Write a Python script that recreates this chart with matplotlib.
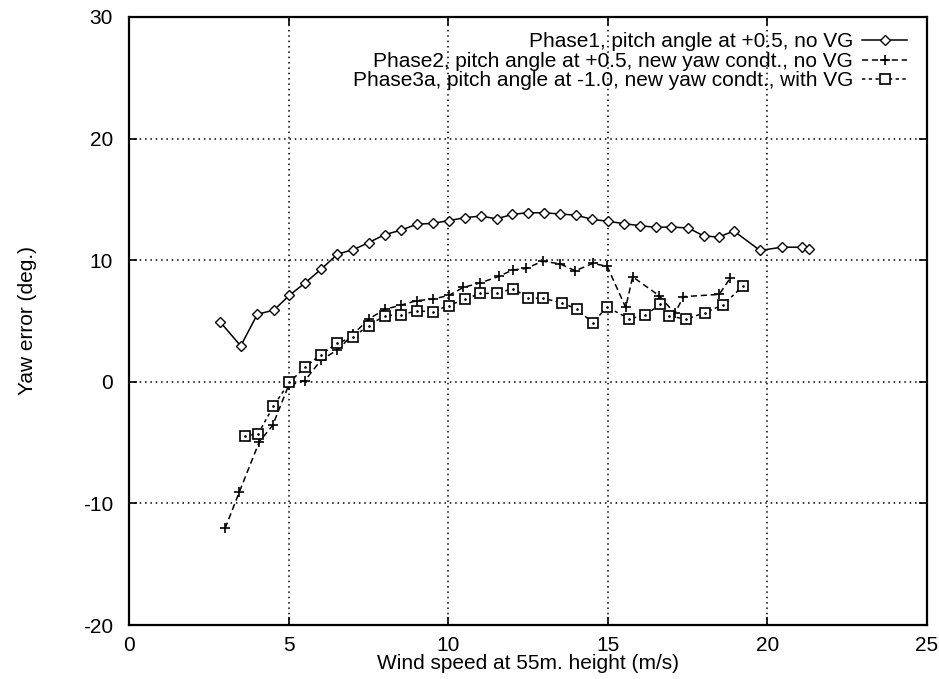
import matplotlib
matplotlib.use("Agg")
import matplotlib.pyplot as plt

plt.rcParams['font.family'] = ['Liberation Sans', 'DejaVu Sans']
plt.rcParams['axes.unicode_minus'] = False

# Phase1, pitch +0.5, no VG
p1_x = [2.85, 3.5, 4.02, 4.54, 5.02, 5.52, 6.02, 6.53, 7.03, 7.51, 8.01, 8.51, 9.01, 9.51, 10.01,
        10.53, 11.02, 11.52, 12.01, 12.49, 13.0, 13.5, 14.01, 14.51, 15.0, 15.52, 16.01, 16.5,
        16.97, 17.52, 18.0, 18.47, 18.95, 19.77, 20.45, 21.08, 21.31]
p1_y = [4.94, 2.95, 5.55, 5.9, 7.1, 8.14, 9.26, 10.5, 10.87, 11.45, 12.1, 12.46, 12.95, 13.03, 13.25,
        13.5, 13.63, 13.4, 13.77, 13.9, 13.9, 13.8, 13.7, 13.36, 13.2, 13.0, 12.84, 12.7,
        12.73, 12.65, 12.0, 11.9, 12.4, 10.8, 11.07, 11.07, 10.93]

# Phase2, pitch +0.5, new yaw condt., no VG
p2_x = [3.01, 3.45, 4.08, 4.5, 5.0, 5.51, 6.02, 6.53, 7.03, 7.53, 8.02, 8.51, 9.01, 9.51, 10.02,
        10.47, 11.0, 11.58, 12.02, 12.44, 12.96, 13.5, 13.98, 14.53, 14.98, 15.56, 15.78, 16.61,
        17.1, 17.37, 18.49, 18.83]
p2_y = [-12.05, -9.1, -4.94, -3.58, -0.3, 0.1, 1.8, 2.62, 3.93, 5.2, 5.96, 6.3, 6.67, 6.8, 7.1,
        7.76, 8.13, 8.66, 9.2, 9.32, 9.92, 9.7, 9.13, 9.73, 9.5, 6.12, 8.63, 7.08,
        5.63, 7.0, 7.19, 8.5]

# Phase3a, pitch -1.0, new yaw condt., with VG
p3_x = [3.62, 4.05, 4.52, 5.02, 5.52, 6.0, 6.53, 7.03, 7.51, 8.01, 8.51, 9.01, 9.51, 10.02, 10.53,
        11.01, 11.52, 12.04, 12.51, 12.96, 13.56, 14.03, 14.53, 14.97, 15.67, 16.17, 16.64,
        16.91, 17.44, 18.04, 18.62, 19.23]
p3_y = [-4.48, -4.26, -2.02, -0.05, 1.2, 2.24, 3.17, 3.72, 4.62, 5.44, 5.52, 5.82, 5.77, 6.27, 6.8,
        7.27, 7.27, 7.67, 6.87, 6.87, 6.5, 5.98, 4.84, 6.15, 5.19, 5.46, 6.39,
        5.44, 5.14, 5.68, 6.34, 7.87]

labels = ["Phase1, pitch angle at +0.5, no VG",
          "Phase2, pitch angle at +0.5, new yaw condt., no VG",
          "Phase3a, pitch angle at -1.0, new yaw condt., with VG"]
x_ticks = [0, 5, 10, 15, 20, 25]
y_ticks = [-20, -10, 0, 10, 20, 30]

FS = 15

fig = plt.figure(figsize=(9.39, 6.79), dpi=100)
ax = fig.add_axes([0.1374, 0.0795, 0.8498, 0.8955])

ax.plot(p1_x, p1_y, color='black', linestyle='-', linewidth=1.1, marker='D',
        markersize=5.5, markerfacecolor='white', markeredgecolor='black', markeredgewidth=1.0,
        label=labels[0])
ax.plot(p2_x, p2_y, color='black', linestyle=(0, (4, 2.5)), linewidth=1.1, marker='+',
        markersize=7.5, markeredgewidth=1.2, label=labels[1])
ax.plot(p3_x, p3_y, color='black', linestyle=(0, (2.2, 2.2)), linewidth=1.1, marker='s',
        markersize=6.5, markerfacecolor='white', markeredgecolor='black', markeredgewidth=1.2,
        label=labels[2])
ax.plot(p3_x, p3_y, linestyle='none', marker='.', markersize=1.8, color='black')

ax.set_xlim(0, 25)
ax.set_ylim(-20, 30)
ax.set_xticks(x_ticks)
ax.set_yticks(y_ticks)
ax.grid(True, linestyle=(0, (1, 2.5)), color='black', linewidth=1.1)
ax.tick_params(direction='in', length=6, width=1.2, top=True, right=True,
               labelsize=FS)
ax.tick_params(axis='x', pad=8)
ax.tick_params(axis='y', pad=11.5)
for s in ax.spines.values():
    s.set_linewidth(1.6)

ax.set_xlabel("Wind speed at 55m. height (m/s)", fontsize=FS, labelpad=-1)
ax.set_ylabel("Yaw error (deg.)", fontsize=FS, labelpad=33)

leg = ax.legend(loc='upper right', frameon=False, markerfirst=False, fontsize=FS,
                handlelength=2.16, handletextpad=0.43, labelspacing=0.03,
                borderpad=0, borderaxespad=0, bbox_to_anchor=(0.975, 0.975))
for t in leg.get_texts():
    t.set_ha('right')
leg._legend_box.align = "right"

fig.savefig("out.png", dpi=100)
